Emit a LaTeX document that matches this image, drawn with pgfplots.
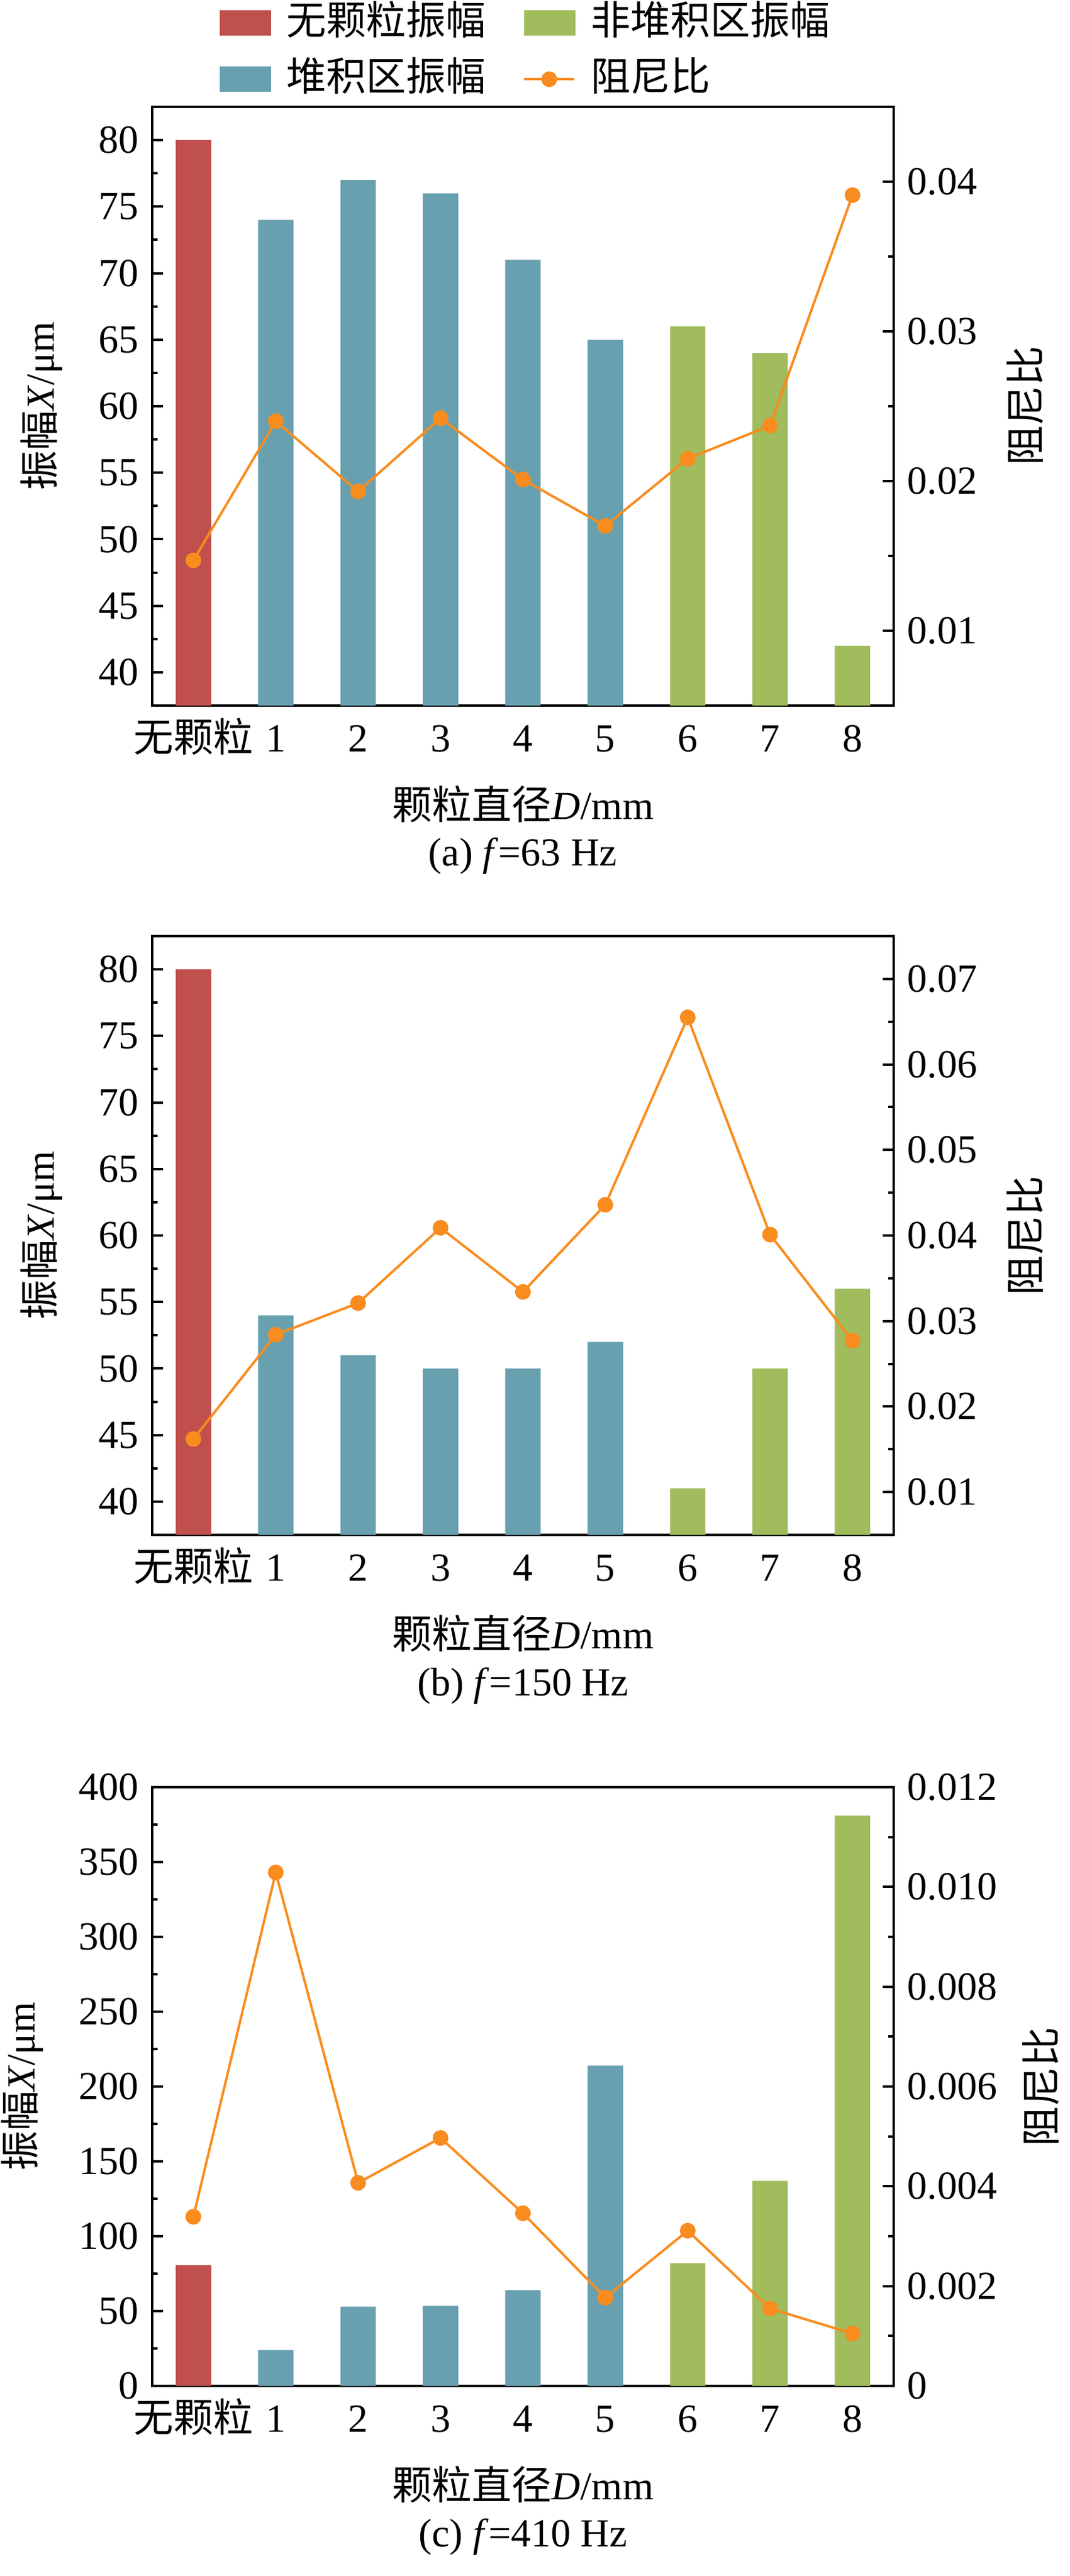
\documentclass[border=0pt]{standalone}
\usepackage{fontspec}
\setmainfont{Liberation Serif}
\newfontfamily\cjk{Noto Sans CJK SC}
\usepackage{pgfplots}
\pgfplotsset{compat=1.18}
\definecolor{cRed}{HTML}{C0504D}
\definecolor{cTeal}{HTML}{68A0B0}
\definecolor{cGreen}{HTML}{A0BC5C}
\definecolor{cOrange}{HTML}{F98C1F}
\newcommand\myfs{\fontsize{16.5pt}{19.8pt}\selectfont}
\pgfplotsset{
  panel/.style={
    scale only axis, width=307pt, height=248pt,
    xmin=-0.5, xmax=8.5,
    tick align=inside,
    major tick length=4.5pt, minor tick length=2.2pt,
    every tick/.style={black, line width=1pt},
    axis line style={line width=1.2pt},
    tick label style={font=\myfs},
    label style={font=\myfs},
    /pgf/number format/assume math mode=true,
    scaled y ticks=false,
    clip=true,
  },
  leftax/.style={panel,
    ytick pos=left,
    xtick={0,...,8}, xticklabels={{\cjk 无颗粒},1,2,3,4,5,6,7,8},
    xtick style={draw=none},
    xticklabel style={inner sep=0pt, text height=14pt, text depth=3pt, yshift=-5pt, anchor=north},
    minor y tick num=1,
    xlabel={{\cjk 颗粒直径}\textit{D}/mm},
    xlabel style={at={(axis description cs:0.5,-0.165)}, anchor=center},
    ylabel={{\cjk 振幅}\textit{X}/μm},
    ylabel style={at={(axis description cs:-0.149,0.5)}, anchor=center},
    title style={at={(axis description cs:0.5,-0.276)}, anchor=center, font=\myfs},
  },
  rightax/.style={panel,
    axis y line*=right, axis x line=none,
    minor y tick num=1,
    ylabel={\cjk 阻尼比},
    every axis y label/.style={at={(axis description cs:#1,0.5)}, anchor=center, rotate=90, font=\myfs},
  },
  rightax/.default=1.177,
  barR/.style={ybar, bar width=0.43, fill=cRed, draw=none},
  barT/.style={ybar, bar width=0.43, fill=cTeal, draw=none},
  barG/.style={ybar, bar width=0.43, fill=cGreen, draw=none},
  dline/.style={color=cOrange, line width=1pt, mark=*, mark size=2.75pt, mark options={fill=cOrange, draw=cOrange}},
  dlineleg/.style={legend image code/.code={\draw[mark repeat=2,mark phase=2,##1] plot coordinates {(0pt,0pt) (10.3pt,0pt) (20.6pt,0pt)};}},
}
\begin{document}
\myfs
\begin{tikzpicture}
\path[use as bounding box] (0,0) rectangle (443pt,-1067pt);
% ---------------- (a) ----------------
\begin{axis}[leftax, at={(63pt,-44.25pt)}, anchor=north west,
  ymin=37.5, ymax=82.5, ytick={40,45,...,80},
  title={(a) \textit{f}=63 Hz}]
\addplot[barR] coordinates {(0,80)};
\addplot[barT] coordinates {(1,74) (2,77) (3,76) (4,71) (5,65)};
\addplot[barG] coordinates {(6,66) (7,64) (8,42)};
\end{axis}
\begin{axis}[rightax, at={(63pt,-44.25pt)}, anchor=north west,
  ymin=0.005, ymax=0.045, ytick={0.01,0.02,0.03,0.04},
  yticklabels={0.01,0.02,0.03,0.04},
  legend columns=2, legend cell align=left,
  legend style={at={(axis description cs:0.0904,1.012)}, anchor=south west,
    draw=none, fill=none, inner sep=0pt, font=\myfs, row sep=6.75pt,
    nodes={inner sep=0pt, text height=13pt, text depth=3.5pt},
    /tikz/every odd column/.append style={column sep=6.25pt},
    /tikz/every even column/.append style={column sep=15.5pt}}]
\addlegendimage{legend image code/.code={\fill[cRed] (0pt,-5pt) rectangle (21pt,5pt);}}
\addlegendentry{\cjk 无颗粒振幅}
\addlegendimage{legend image code/.code={\fill[cGreen] (0pt,-5pt) rectangle (21pt,5pt);}}
\addlegendentry{\cjk 非堆积区振幅}
\addlegendimage{legend image code/.code={\fill[cTeal] (0pt,-5pt) rectangle (21pt,5pt);}}
\addlegendentry{\cjk 堆积区振幅}
\addplot[dline, dlineleg]
  coordinates {(0,0.0147) (1,0.0240) (2,0.0193) (3,0.0242) (4,0.0201) (5,0.0170) (6,0.0215) (7,0.0237) (8,0.0391)};
\addlegendentry{\cjk 阻尼比}
\end{axis}
% ---------------- (b) ----------------
\begin{axis}[leftax, at={(63pt,-387.75pt)}, anchor=north west,
  ymin=37.5, ymax=82.5, ytick={40,45,...,80},
  title={(b) \textit{f}=150 Hz}]
\addplot[barR] coordinates {(0,80)};
\addplot[barT] coordinates {(1,54) (2,51) (3,50) (4,50) (5,52)};
\addplot[barG] coordinates {(6,41) (7,50) (8,56)};
\end{axis}
\begin{axis}[rightax, at={(63pt,-387.75pt)}, anchor=north west,
  ymin=0.005, ymax=0.075, ytick={0.01,0.02,0.03,0.04,0.05,0.06,0.07},
  yticklabels={0.01,0.02,0.03,0.04,0.05,0.06,0.07}]
\addplot[dline] coordinates {(0,0.0162) (1,0.0284) (2,0.0321) (3,0.0409) (4,0.0334) (5,0.0436) (6,0.0655) (7,0.0401) (8,0.0277)};
\end{axis}
% ---------------- (c) ----------------
\begin{axis}[leftax, at={(63pt,-740.25pt)}, anchor=north west,
  ymin=0, ymax=400, ytick={0,50,...,400},
  ylabel style={at={(axis description cs:-0.175,0.5)}},
  title={(c) \textit{f}=410 Hz}]
\addplot[barR] coordinates {(0,80.5)};
\addplot[barT] coordinates {(1,24) (2,53) (3,53.5) (4,64) (5,214)};
\addplot[barG] coordinates {(6,82) (7,137) (8,381)};
\end{axis}
\begin{axis}[rightax=1.198, at={(63pt,-740.25pt)}, anchor=north west,
  ymin=0, ymax=0.012, ytick={0,0.002,0.004,0.006,0.008,0.010,0.012},
  yticklabels={0,0.002,0.004,0.006,0.008,0.010,0.012}]
\addplot[dline] coordinates {(0,0.00339) (1,0.01029) (2,0.00407) (3,0.00497) (4,0.00346) (5,0.00177) (6,0.00311) (7,0.00155) (8,0.00105)};
\end{axis}
\end{tikzpicture}
\end{document}
